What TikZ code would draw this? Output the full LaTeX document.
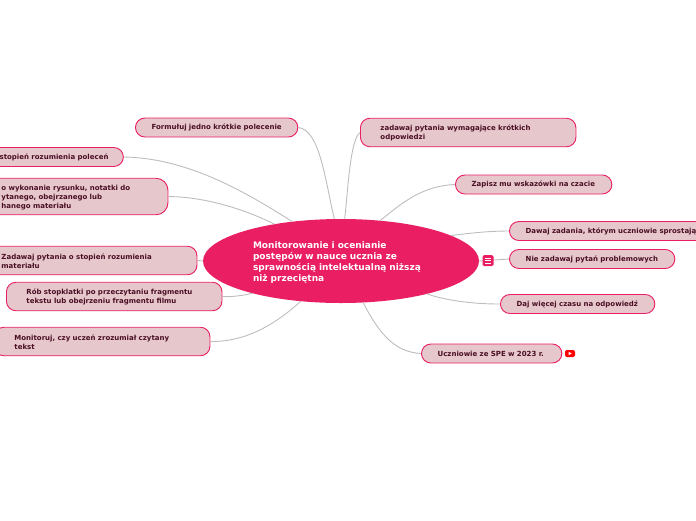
\documentclass[tikz,border=0pt]{standalone}
\usepackage{fontspec}
\setmainfont{DejaVu Sans}
\usetikzlibrary{shapes.geometric}
\definecolor{pinkmain}{HTML}{E91E63}
\definecolor{pinkfill}{HTML}{E6C7CC}
\definecolor{pinktext}{HTML}{4A0F24}
\definecolor{linkgray}{HTML}{BDBDBD}
\tikzset{
  pill/.style={draw=pinkmain, fill=pinkfill, line width=0.9pt, rounded corners=9.5pt, anchor=west, align=left,
    inner xsep=16.2pt, inner ysep=0pt, minimum height=#1, text=pinktext, font=\bfseries\fontsize{7}{9}\selectfont},
  pill/.default=19pt,
  pillwide/.style={pill=28.5pt, inner xsep=20pt, execute at begin node={\rule{0pt}{6.8pt}}},
  link/.style={draw=linkgray, line width=0.9pt},
}
\begin{document}
\begin{tikzpicture}[x=1pt, y=-1pt]
    \useasboundingbox (0,0) rectangle (696,520);
    \clip (0,0) rectangle (696,520);

    \node[ellipse, fill=pinkmain, text=white, minimum width=276pt, minimum height=84pt, inner sep=0pt, outer sep=0pt,
      text width=176pt, align=left, font=\bfseries\fontsize{9}{11}\selectfont,
      execute at begin node={\rule{0pt}{10.5pt}}] (title) at (341,261)
      {Monitorowanie i ocenianie\\postępów w nauce ucznia ze\\sprawnością intelektualną niższą\\niż przeciętna};

    % left side
    \node[pill, text width=130pt] (krotkie) at (135,127.5) {\mbox{Formułuj jedno krótkie polecenie}};
    \node[pill, text width=107.5pt] (polecen) at (-17,157) {\mbox{stopień rozumienia poleceń}};
    \node[pillwide, minimum height=36.5pt, rounded corners=12pt, text width=146.5pt] (rysunek) at (-19,196.5)
      {o wykonanie rysunku, notatki do\\ytanego, obejrzanego lub\\hanego materiału};
    \node[pillwide, text width=175.5pt] (stopien) at (-19,260.5) {Zadawaj pytania o stopień rozumienia\\materiału};
    \node[pillwide, text width=175.5pt] (stopklatki) at (6,296.5)
      {Rób stopklatki po przeczytaniu fragmentu\\tekstu lub obejrzeniu fragmentu filmu};
    \node[pillwide, text width=175.5pt] (czytany) at (-6,341.5) {Monitoruj, czy uczeń zrozumiał czytany\\tekst};

    % right side
    \node[pillwide, text width=175.5pt] (krotkich) at (360,132.5) {zadawaj pytania wymagające krótkich\\odpowiedzi};
    \node[pill, text width=124pt] (czat) at (455,184.5) {\mbox{Zapisz mu wskazówki na czacie}};
    \node[pill, text width=200pt] (zadania) at (509,231) {\mbox{Dawaj zadania, którym uczniowie sprostają}};
    \node[pill, text width=133pt] (problem) at (509,259) {\mbox{Nie zadawaj pytań problemowych}};
    \node[pill, text width=122pt] (czas) at (500,304) {\mbox{Daj więcej czasu na odpowiedź}};
    \node[pill, text width=108pt] (spe) at (421,353.5) {\mbox{Uczniowie ze SPE w 2023 r.}};

    \draw[link] (krotkie.east) .. controls (320,130) and (325,180) .. (title.99);
    \draw[link] (polecen.east) .. controls (190,158) and (250,195) .. (title.141);
    \draw[link] (rysunek.east) .. controls (210,197) and (250,212) .. (title.151);
    \draw[link] (stopien.east) -- (title.180);
    \draw[link] (stopklatki.east) .. controls (235,297) and (245,295) .. (title.200);
    \draw[link] (czytany.east) .. controls (250,342) and (280,320) .. (title.225);
    \draw[link] (krotkich.west) .. controls (350,140) and (348,190) .. (title.85);
    \draw[link] (czat.west) .. controls (420,186) and (400,205) .. (title.46);
    \draw[link] (zadania.west) .. controls (490,231) and (470,233) .. (title.13);
    \draw[link] (problem.west) -- (title.0);
    \draw[link] (czas.west) .. controls (470,304) and (445,300) .. (title.339);
    \draw[link] (spe.west) .. controls (395,352) and (380,335) .. (title.298);

    % icons
    \node[fill=pinkmain, rounded corners=1.5pt, minimum size=11pt, inner sep=0pt] (notes) at (488,260.5) {};
    \foreach \dy in {-2.5,0,2.5}
      \draw[white, line width=0.7pt] ([xshift=-3pt,yshift=\dy pt]notes.center) -- ([xshift=3pt,yshift=\dy pt]notes.center);
    \node[fill=red, rounded corners=2pt, minimum width=10pt, minimum height=7pt, inner sep=0pt] (video) at (570,353.5) {};
    \fill[white] ([xshift=-1.3pt,yshift=1.6pt]video.center) -- ([xshift=1.7pt]video.center) -- ([xshift=-1.3pt,yshift=-1.6pt]video.center) -- cycle;
\end{tikzpicture}
\end{document}
